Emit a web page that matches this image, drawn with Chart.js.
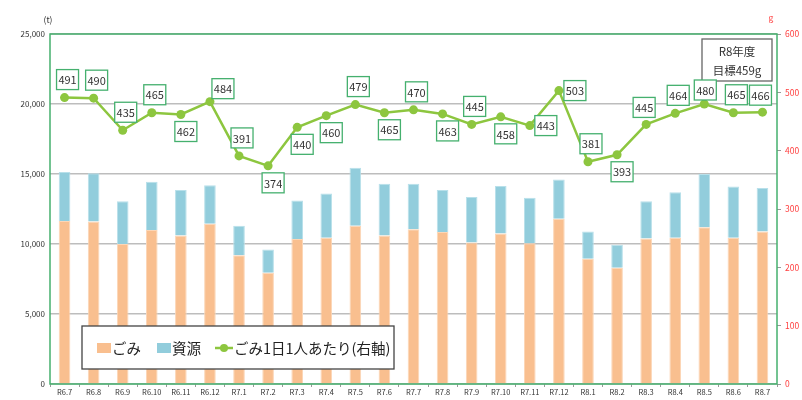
<!DOCTYPE html>
<html>
<head>
<meta charset="utf-8">
<script src="https://cdn.jsdelivr.net/npm/chart.js@4.4.1/dist/chart.umd.min.js"></script>
<style>
  html, body { margin: 0; padding: 0; background: #fff; }
  #wrap { width: 802px; height: 400px; }
</style>
</head>
<body>
<div id="wrap"><canvas id="chart" width="802" height="400"></canvas></div>
<script>
// monthly waste data (t) and per-capita daily waste (g)
const months = ['R6.7', 'R6.8', 'R6.9', 'R6.10', 'R6.11', 'R6.12', 'R7.1', 'R7.2', 'R7.3', 'R7.4', 'R7.5', 'R7.6',
  'R7.7', 'R7.8', 'R7.9', 'R7.10', 'R7.11', 'R7.12', 'R8.1', 'R8.2', 'R8.3', 'R8.4', 'R8.5', 'R8.6', 'R8.7'];
const gomi = [11650, 11600, 10000, 11000, 10600, 11450, 9200, 7950, 10350, 10450, 11300, 10600,
  11050, 10850, 10100, 10750, 10050, 11800, 8950, 8300, 10400, 10450, 11200, 10450, 10900];
const shigen = [3500, 3450, 3050, 3450, 3250, 2750, 2100, 1650, 2750, 3150, 4150, 3700,
  3250, 3000, 3250, 3400, 3250, 2800, 1950, 1650, 2650, 3250, 3800, 3650, 3100];
const perCapita = [491, 490, 435, 465, 462, 484, 391, 374, 440, 460, 479, 465,
  470, 463, 445, 458, 443, 503, 381, 393, 445, 464, 480, 465, 466];

// where each value box sits relative to its point: u = above, ul = above-left, d = below, r = right
const labelSide = ['u', 'u', 'u', 'u', 'd', 'ur', 'u', 'd', 'd', 'd', 'u', 'd',
  'u', 'd', 'u', 'd', 'r', 'r', 'u', 'd', 'ul', 'u', 'ut', 'u', 'ul'];

const FONT = '"Noto Sans CJK JP", "Noto Sans", sans-serif';
const ORANGE = '#f9bf8f';
const BLUE = '#92cddc';
const GREEN = '#8dc63f';
const FRAME = '#45b06e';

const decor = {
  id: 'decor',
  beforeDatasetsDraw(chart) {
    const { ctx, chartArea: a } = chart;
    ctx.save();
    ctx.strokeStyle = FRAME;
    ctx.lineWidth = 1.5;
    ctx.strokeRect(a.left, a.top, a.right - a.left, a.bottom - a.top);
    ctx.restore();
  },
  afterDatasetsDraw(chart) {
    const { ctx } = chart;
    const meta = chart.getDatasetMeta(2);
    ctx.save();
    ctx.textAlign = 'center';
    ctx.textBaseline = 'middle';

    // target box
    ctx.fillStyle = '#fff';
    ctx.fillRect(702, 39, 70, 42);
    ctx.strokeStyle = '#666';
    ctx.lineWidth = 1.3;
    ctx.strokeRect(702, 39, 70, 42);
    ctx.fillStyle = '#333';
    ctx.font = '11.5px ' + FONT;
    ctx.fillText('R8年度', 737, 52);
    ctx.fillText('目標459g', 737, 71);

    // value boxes on the line
    ctx.font = '11px ' + FONT;
    meta.data.forEach((pt, i) => {
      const side = labelSide[i];
      let dx = 3, dy = -18;
      if (side === 'ul') { dx = -2; dy = -17; }
      if (side === 'ut') { dx = 1; dy = -14; }
      if (side === 'd') { dx = 5; dy = 17; }
      if (side === 'r') { dx = 16; dy = 0; }
      if (side === 'ur') { dx = 13; dy = -13; }
      const cx = pt.x + dx, cy = pt.y + dy;
      ctx.fillStyle = '#fff';
      ctx.fillRect(cx - 11, cy - 10, 22, 20);
      ctx.strokeStyle = FRAME;
      ctx.lineWidth = 1.3;
      ctx.strokeRect(cx - 11, cy - 10, 22, 20);
      ctx.fillStyle = '#333';
      ctx.fillText(String(perCapita[i]), cx, cy + 0.5);
    });

    // legend
    ctx.fillStyle = '#fff';
    ctx.fillRect(82, 326, 312, 43);
    ctx.strokeStyle = '#444';
    ctx.lineWidth = 1.3;
    ctx.strokeRect(82, 326, 312, 43);
    ctx.font = '14.5px ' + FONT;
    ctx.textAlign = 'left';
    ctx.fillStyle = ORANGE;
    ctx.fillRect(97, 343, 14, 10);
    ctx.fillStyle = '#222';
    ctx.fillText('ごみ', 112, 348);
    ctx.fillStyle = BLUE;
    ctx.fillRect(157, 343, 14, 10);
    ctx.fillStyle = '#222';
    ctx.fillText('資源', 172, 348);
    ctx.strokeStyle = GREEN;
    ctx.lineWidth = 2.5;
    ctx.beginPath();
    ctx.moveTo(215, 348);
    ctx.lineTo(233, 348);
    ctx.stroke();
    ctx.fillStyle = GREEN;
    ctx.beginPath();
    ctx.arc(224, 348, 4, 0, Math.PI * 2);
    ctx.fill();
    ctx.fillStyle = '#222';
    ctx.fillText('ごみ1日1人あたり(右軸)', 234, 348);

    // axis units
    ctx.textAlign = 'center';
    ctx.font = '8.5px ' + FONT;
    ctx.fillStyle = '#333';
    ctx.fillText('(t)', 48, 20);
    ctx.fillStyle = '#ff4040';
    ctx.fillText('g', 771, 18);
    ctx.restore();
  },
};

new Chart(document.getElementById('chart').getContext('2d'), {
  type: 'bar',
  data: {
    labels: months,
    datasets: [
      {
        label: 'ごみ',
        data: gomi,
        backgroundColor: ORANGE,
        borderColor: '#fcd6b6',
        borderWidth: 1,
        barPercentage: 0.4,
        categoryPercentage: 1,
        order: 2,
      },
      {
        label: '資源',
        data: shigen,
        backgroundColor: BLUE,
        borderColor: '#b8e0ea',
        borderWidth: 1,
        barPercentage: 0.4,
        categoryPercentage: 1,
        order: 2,
      },
      {
        type: 'line',
        label: 'ごみ1日1人あたり(右軸)',
        data: perCapita,
        yAxisID: 'y1',
        borderColor: GREEN,
        borderWidth: 2.5,
        backgroundColor: GREEN,
        pointRadius: 4.5,
        pointBorderWidth: 0,
        tension: 0,
        order: 0,
      },
    ],
  },
  options: {
    responsive: false,
    animation: false,
    devicePixelRatio: 1,
    layout: { padding: { top: 34, left: 0, right: 0, bottom: 0 } },
    plugins: {
      legend: { display: false },
      tooltip: { enabled: false },
    },
    scales: {
      x: {
        stacked: true,
        grid: { drawOnChartArea: false, offset: true, tickLength: 3, color: '#999' },
        border: { display: false },
        ticks: {
          color: '#333',
          font: { size: 7.5, family: FONT },
          padding: 1,
          maxRotation: 0,
          autoSkip: false,
        },
        afterFit: s => { s.height = 16; },
      },
      y: {
        stacked: true,
        min: 0,
        max: 25000,
        ticks: {
          stepSize: 5000,
          color: '#333',
          font: { size: 8, family: FONT },
          padding: 5,
          callback: v => v.toLocaleString('en-US'),
        },
        grid: { color: '#bdbdbd', lineWidth: 1.5, drawTicks: false },
        border: { display: false },
        afterFit: s => { s.width = 50; },
      },
      y1: {
        position: 'right',
        min: 0,
        max: 600,
        ticks: {
          stepSize: 100,
          color: '#ff4040',
          font: { size: 8.5, family: FONT },
          padding: 4,
        },
        grid: { drawOnChartArea: false, tickLength: 4, color: '#999' },
        border: { display: false },
        afterFit: s => { s.width = 25; },
      },
    },
  },
  plugins: [decor],
});
</script>
</body>
</html>
